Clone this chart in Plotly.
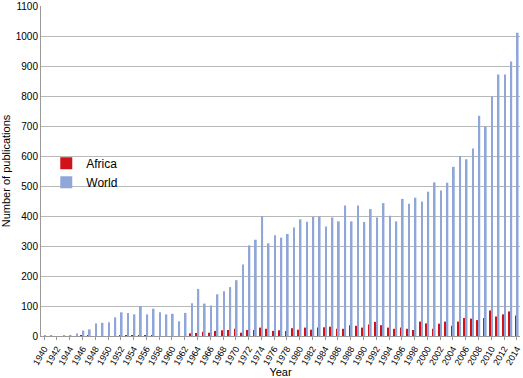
import plotly.graph_objects as go

years = list(range(1940, 2015))

world = [1, 2, 0, 2, 3, 8, 18, 22, 42, 44,
         46, 62, 79, 77, 72, 100, 72, 91, 79, 72,
         74, 49, 77, 109, 157, 108, 102, 139, 149, 163,
         186, 238, 302, 321, 400, 309, 336, 328, 340, 362,
         389, 381, 397, 399, 365, 395, 382, 435, 382, 435,
         380, 423, 395, 443, 401, 382, 457, 441, 461, 448,
         481, 512, 485, 511, 564, 600, 589, 625, 734, 698,
         799, 872, 872, 915, 1011]

africa = [0, 0, 0, 0, 0, 0, 2, 3, 0, 0,
          0, 0, 2, 2, 2, 2, 2, 2, 0, 0,
          0, 0, 0, 9, 10, 14, 11, 17, 19, 20,
          24, 11, 20, 20, 28, 24, 17, 19, 17, 26,
          21, 28, 21, 28, 29, 31, 24, 24, 36, 34,
          28, 38, 47, 36, 28, 24, 28, 24, 20, 48,
          42, 24, 41, 48, 34, 48, 60, 58, 53, 60,
          85, 65, 72, 82, 68]

tick_years = list(range(1940, 2015, 2))
tick_labels = [str(y) for y in tick_years]
y_ticks = list(range(0, 1101, 100))

FONT = "Liberation Sans, Arial, sans-serif"

fig = go.Figure()
fig.add_trace(go.Bar(x=years, y=africa, name="Africa",
                     marker=dict(color="#d0121b", line=dict(width=0))))
fig.add_trace(go.Bar(x=years, y=world, name="World",
                     marker=dict(color="#8fa7d8", line=dict(width=0))))

fig.update_layout(
    width=523, height=378,
    margin=dict(l=41, r=3, t=6, b=42),
    paper_bgcolor="white", plot_bgcolor="white",
    barmode="group", bargap=0.45, bargroupgap=0.0,
    font=dict(family=FONT, size=10, color="black"),
    showlegend=True,
    legend=dict(x=0.011, y=0.495, xanchor="left", yanchor="middle",
                bgcolor="rgba(0,0,0,0)", font=dict(size=12),
                itemwidth=30, tracegroupgap=0),
)

fig.update_xaxes(
    range=[1939.5, 2014.5],
    tickmode="array", tickvals=tick_years, ticktext=tick_labels,
    tickangle=-60, tickfont=dict(size=9),
    ticks="outside", ticklen=3, tickcolor="#999999",
    showline=True, linecolor="#999999", linewidth=1,
    showgrid=False, zeroline=False,
    title=dict(text="Year", font=dict(size=11), standoff=4),
    automargin=False,
)
fig.update_yaxes(
    range=[0, 1100],
    tickmode="array", tickvals=y_ticks,
    showgrid=True, gridcolor="#b8b8b8", gridwidth=1.3,
    showline=True, linecolor="#999999", linewidth=1,
    zeroline=False, ticks="",
    tickfont=dict(size=10),
    ticklabeloverflow="allow",
    title=dict(text="Number of publications", font=dict(size=11), standoff=6),
    automargin=False,
)

fig.write_html("out.html",
               config={"displayModeBar": False},
               post_script="document.body.style.margin='0';document.body.style.overflow='hidden';")
